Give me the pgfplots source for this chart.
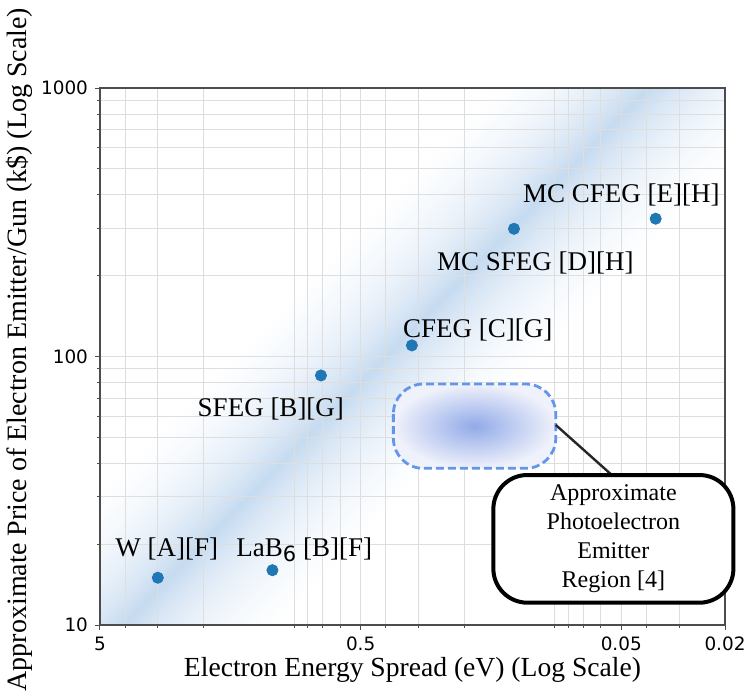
\documentclass[border=0pt]{standalone}
\usepackage{pgfplots}
\pgfplotsset{compat=1.18}
\usepackage{fontspec}
\setmainfont{Liberation Serif}
\newfontfamily\dejavu{DejaVu Sans}
\usetikzlibrary{calc}
\definecolor{mplblue}{RGB}{31,119,180}
\definecolor{bandc}{RGB}{198,219,240}
\definecolor{bandm}{RGB}{216,230,245}
\definecolor{bandl}{RGB}{232,240,249}
\definecolor{bandx}{RGB}{245,249,253}
\definecolor{regedge}{RGB}{100,149,237}
\definecolor{reginner}{RGB}{145,170,232}
\definecolor{regouter}{RGB}{240,242,251}
\pgfdeclarehorizontalshading{band}{100bp}{color(0bp)=(white); color(44.5bp)=(white); color(46.3bp)=(bandx); color(47.8bp)=(bandl); color(49bp)=(bandm); color(50bp)=(bandc); color(51bp)=(bandm); color(52.2bp)=(bandl); color(53.7bp)=(bandx); color(55.5bp)=(white); color(100bp)=(white)}
\newcommand{\tl}[1]{\mbox{\dejavu\fontsize{9.2}{11}\selectfont #1}}
\newcommand{\lbl}{\fontsize{13.5}{16}\selectfont}
\begin{document}
\begin{tikzpicture}
\begin{axis}[
  name=ax, at={(0pt,0pt)}, anchor=south west,
  width=312.5pt, height=268.5pt, scale only axis,
  xmode=log, ymode=log, x dir=reverse,
  xmin=0.02, xmax=5, ymin=10, ymax=1000,
  xtick={5,0.5,0.05,0.02},
  xticklabels={\tl{5},\tl{0.5},\tl{0.05},\tl{0.02}},
  minor xtick={4,3,2,0.9,0.8,0.7,0.6,0.4,0.3,0.2,0.09,0.08,0.07,0.06,0.04,0.03},
  ytick={10,100,1000},
  yticklabels={\tl{10},\tl{100},\tl{1000}},
  minor ytick={20,30,40,50,60,70,80,90,200,300,400,500,600,700,800,900},
  grid=both,
  major grid style={draw=black!13, line width=0.5pt},
  minor grid style={draw=black!13, line width=0.5pt},
  tick align=outside, tick pos=left,
  major tick length=2.5pt, minor tick length=1.5pt,
  every tick/.style={black!70, line width=0.5pt},
  axis line style={black!70, line width=0.6pt},
  set layers, clip=false,
  xlabel={Electron Energy Spread (eV) (Log Scale)},
  ylabel={Approximate Price of Electron Emitter/Gun (k\$) (Log Scale)},
  xlabel style={at={(axis description cs:0.5,-0.0596)}, anchor=north, inner sep=0pt, font=\fontsize{13.8}{16}\selectfont},
  ylabel style={at={(axis description cs:-0.1075,0.513)}, anchor=south, inner sep=0pt, font=\fontsize{14}{16}\selectfont},
]
\begin{pgfonlayer}{axis background}
  \clip (rel axis cs:0,0) rectangle (rel axis cs:1,1);
  \coordinate (P) at (axis cs:0.3161,126.6);
  \shade[shading=band, shading angle=-44.4] ([shift={(-250pt,-250pt)}]P) rectangle ([shift={(250pt,250pt)}]P);
\end{pgfonlayer}

% photoelectron region
\shadedraw[inner color=reginner, outer color=regouter, draw=regedge, line width=1.4pt,
  dash pattern=on 4pt off 2pt, rounded corners=15pt]
  (axis cs:0.3745,79.0) rectangle (axis cs:0.08921,38.33);
\draw[line width=1.2pt, black!85] (axis cs:0.08921,55.6) -- (axis cs:0.05437,36.2);
\coordinate (cb1) at (axis cs:0.1548,36.2);
\coordinate (cb2) at (axis cs:0.01857,12.11);

\addplot[only marks, mark=*, mark size=2.8pt, mplblue, mark options={draw=mplblue, fill=mplblue}]
coordinates {(3,15) (1.09,16) (0.71,85) (0.318,110) (0.129,299) (0.0369,326)};

\node[anchor=base west, inner sep=0pt, font=\lbl] at (axis cs:4.379,17.96) {W [A][F]};
\node[anchor=base west, inner sep=0pt, font=\lbl] at (axis cs:1.503,17.96) {LaB\raisebox{-0.17em}{\dejavu\fontsize{10.5}{12}\selectfont 6} [B][F]};
\node[anchor=base west, inner sep=0pt, font=\lbl] at (axis cs:2.116,59.7) {SFEG [B][G]};
\node[anchor=base west, inner sep=0pt, font=\lbl] at (axis cs:0.3446,118.2) {CFEG [C][G]};
\node[anchor=base west, inner sep=0pt, font=\lbl] at (axis cs:0.2552,208.7) {MC SFEG [D][H]};
\node[anchor=base west, inner sep=0pt, font=\lbl] at (axis cs:0.1194,375.3) {MC CFEG [E][H]};
\end{axis}
\draw[line width=2pt, rounded corners=17pt, fill=white] (cb1) rectangle (cb2);
\node[align=center, font=\fontsize{12}{14.5}\selectfont, inner sep=0pt] at ($(cb1)!0.5!(cb2)$) {Approximate\\Photoelectron\\Emitter\\Region [4]};
\pgfresetboundingbox
\path[use as bounding box] ([shift={(-50pt,-36.5pt)}]ax.south west) rectangle ([shift={(324.5pt,312.5pt)}]ax.south west);
\end{tikzpicture}
\end{document}
